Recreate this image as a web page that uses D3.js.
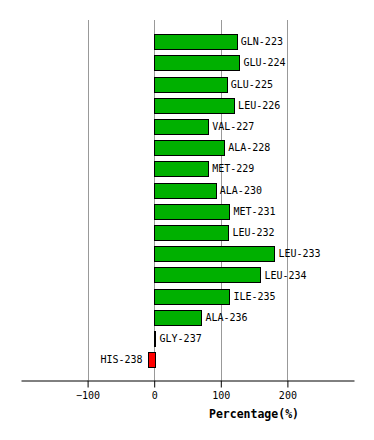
<!DOCTYPE html>
<html>
<head>
<meta charset="utf-8">
<script src="https://cdn.jsdelivr.net/npm/d3@7"></script>
<style>
body { margin: 0; background: #fff; }
text { font-family: "DejaVu Sans Mono", monospace; }
</style>
</head>
<body>
<div class="chart"></div>
<script>
const residues = ['GLN-223','GLU-224','GLU-225','LEU-226','VAL-227','ALA-228','MET-229','ALA-230',
  'MET-231','LEU-232','LEU-233','LEU-234','ILE-235','ALA-236','GLY-237','HIS-238']
const values = [124, 128, 109, 120, 81, 105, 81, 92.5, 113, 111.5, 180.5, 159.5, 113, 71, 2, -10]
const ticks = [-100, 0, 100, 200]

const width = 374, height = 440

const x = d3.scaleLinear()
  .domain([-200, 300])
  .range([21, 354])

const y = d3.scaleBand()
  .domain(residues)
  .range([31, 370.5])
  .paddingInner(0.29)
  .paddingOuter(0.145)

const svg = d3.select('.chart')
  .append('svg')
  .attr('width', width)
  .attr('height', height)

// grid
svg.append('g')
  .selectAll('line')
  .data(ticks)
  .enter()
  .append('line')
  .attr('x1', d => Math.round(x(d)) + 0.5)
  .attr('x2', d => Math.round(x(d)) + 0.5)
  .attr('y1', 20)
  .attr('y2', 380)
  .attr('stroke', '#999')
  .attr('stroke-width', 1)

const data = residues.map((r, i) => ({ name: r, value: values[i] }))

svg.append('g')
  .selectAll('rect')
  .data(data)
  .enter()
  .append('rect')
  .attr('x', d => Math.round(x(Math.min(0, d.value))) + 0.5)
  .attr('y', d => Math.round(y(d.name)) + 0.5)
  .attr('width', d => Math.max(1, Math.round(Math.abs(x(d.value) - x(0)))))
  .attr('height', Math.round(y.bandwidth()))
  .attr('fill', d => d.value < 0 ? '#ff0000' : '#00b000')
  .attr('stroke', '#000')
  .attr('stroke-width', 1)

svg.append('g')
  .selectAll('text')
  .data(data)
  .enter()
  .append('text')
  .attr('x', d => d.value < 0 ? x(d.value) - 5 : x(d.value) + 4)
  .attr('y', d => y(d.name) + y.bandwidth() / 2)
  .attr('dy', '0.35em')
  .attr('text-anchor', d => d.value < 0 ? 'end' : 'start')
  .attr('font-size', '10px')
  .attr('fill', '#000')
  .text(d => d.name)

// axis
const axis = svg.append('g')
  .attr('transform', 'translate(0,380.5)')
  .call(d3.axisBottom(x).tickValues(ticks).tickSize(7).tickPadding(4).tickSizeOuter(0))

axis.select('.domain').attr('stroke', '#000')
axis.selectAll('.tick line').attr('stroke', '#000')
axis.selectAll('.tick text')
  .attr('font-family', '"DejaVu Sans Mono", monospace')
  .attr('font-size', '10px')
  .attr('fill', '#000')

svg.append('text')
  .attr('x', 254)
  .attr('y', 414)
  .attr('dy', '0.35em')
  .attr('text-anchor', 'middle')
  .attr('font-size', '11.5px')
  .attr('font-weight', 'bold')
  .text('Percentage(%)')
</script>
</body>
</html>
